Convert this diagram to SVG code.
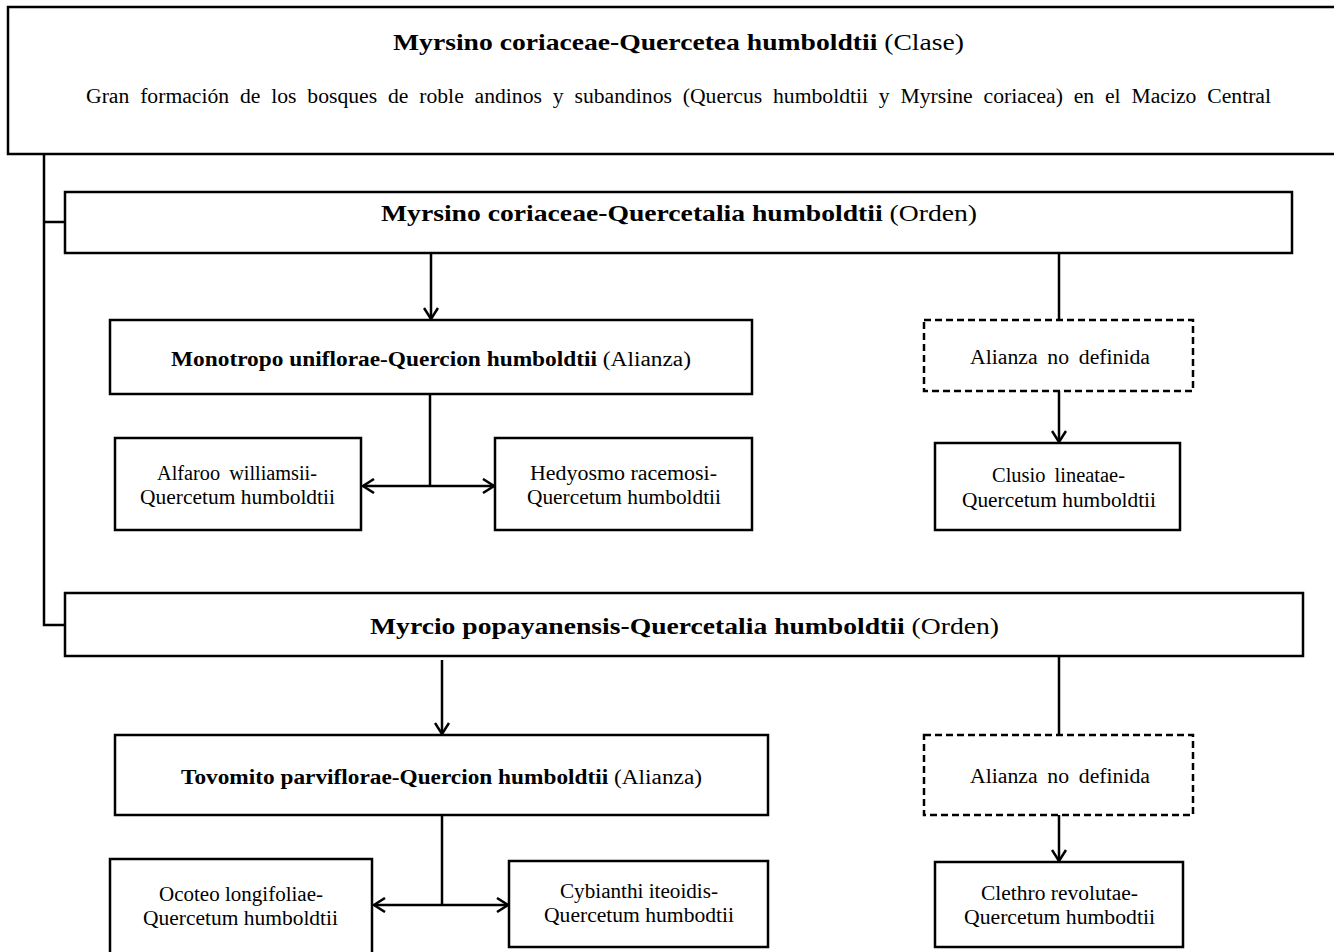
<svg xmlns="http://www.w3.org/2000/svg" width="1334" height="952" viewBox="0 0 1334 952">
  <style>
    .box { fill: #fff; stroke: #000; stroke-width: 2.5; }
    .dash { fill: #fff; stroke: #000; stroke-width: 2.5; stroke-dasharray: 7 4; }
    .wire { fill: none; stroke: #000; stroke-width: 2.5; }
    text { font-family: "Liberation Serif", "Times New Roman", serif; fill: #000; }
    .b { font-weight: bold; }
    .big { font-size: 23px; }
    .mid { font-size: 20px; }
    .sm { font-size: 20px; }
  </style>
  <defs>
    <marker id="chev" viewBox="0 0 14 16" refX="12" refY="8" markerWidth="14" markerHeight="16" markerUnits="userSpaceOnUse" orient="auto-start-reverse">
      <path d="M1,1 L12,8 L1,15" fill="none" stroke="#000" stroke-width="2.5"/>
    </marker>
  </defs>

  <rect width="1334" height="952" fill="#fff"/>

  <!-- class -->
  <g id="clase">
    <rect class="box" x="8" y="7" width="1340" height="147"/>
    <text class="big" x="393" y="50" textLength="571" lengthAdjust="spacingAndGlyphs"><tspan class="b">Myrsino coriaceae-Quercetea humboldtii</tspan> (Clase)</text>
    <text class="mid" x="86" y="103" word-spacing="5" textLength="1185" lengthAdjust="spacingAndGlyphs">Gran formación de los bosques de roble andinos y subandinos (Quercus humboldtii y Myrsine coriacea) en el Macizo Central</text>
  </g>

  <!-- connectors -->
  <g id="connectors">
    <path class="wire" d="M44,154 V625 H65 M44,222 H65"/>
    <path class="wire" d="M431,253 V319" marker-end="url(#chev)"/>
    <path class="wire" d="M1059,253 V320"/>
    <path class="wire" d="M430,394 V486"/>
    <path class="wire" d="M363,486 H494" marker-start="url(#chev)" marker-end="url(#chev)"/>
    <path class="wire" d="M1059,391 V442" marker-end="url(#chev)"/>
    <path class="wire" d="M442,660 V734" marker-end="url(#chev)"/>
    <path class="wire" d="M1059,656 V735"/>
    <path class="wire" d="M442,815 V905"/>
    <path class="wire" d="M374,905 H508" marker-start="url(#chev)" marker-end="url(#chev)"/>
    <path class="wire" d="M1059,815 V861" marker-end="url(#chev)"/>
  </g>

  <!-- order 1 -->
  <g id="orden1">
    <rect class="box" x="65" y="192" width="1227" height="61"/>
    <text class="big" x="381" y="221" textLength="596" lengthAdjust="spacingAndGlyphs"><tspan class="b">Myrsino coriaceae-Quercetalia humboldtii</tspan> (Orden)</text>
  </g>

  <g id="alianza1">
    <rect class="box" x="110" y="320" width="642" height="74"/>
    <text class="mid" x="171" y="366" textLength="520" lengthAdjust="spacingAndGlyphs"><tspan class="b">Monotropo uniflorae-Quercion humboldtii</tspan>  (Alianza)</text>
  </g>

  <g id="alianza-nd1">
    <rect class="dash" x="924" y="320" width="269" height="71"/>
    <text class="mid" x="970" y="364" word-spacing="4" textLength="180" lengthAdjust="spacingAndGlyphs">Alianza no definida</text>
  </g>

  <g id="alfaroo">
    <rect class="box" x="115" y="438" width="246" height="92"/>
    <text class="sm" x="157" y="480" word-spacing="4" textLength="160" lengthAdjust="spacingAndGlyphs">Alfaroo williamsii-</text>
    <text class="sm" x="140" y="504" textLength="195" lengthAdjust="spacingAndGlyphs">Quercetum humboldtii</text>
  </g>

  <g id="hedyosmo">
    <rect class="box" x="495" y="438" width="257" height="92"/>
    <text class="sm" x="530" y="480" textLength="187" lengthAdjust="spacingAndGlyphs">Hedyosmo racemosi-</text>
    <text class="sm" x="527" y="504" textLength="194" lengthAdjust="spacingAndGlyphs">Quercetum humboldtii</text>
  </g>

  <g id="clusio">
    <rect class="box" x="935" y="443" width="245" height="87"/>
    <text class="sm" x="992" y="482" word-spacing="4" textLength="133" lengthAdjust="spacingAndGlyphs">Clusio lineatae-</text>
    <text class="sm" x="962" y="507" textLength="194" lengthAdjust="spacingAndGlyphs">Quercetum humboldtii</text>
  </g>

  <!-- order 2 -->
  <g id="orden2">
    <rect class="box" x="65" y="593" width="1238" height="63"/>
    <text style="font-size:24px" x="370" y="634" textLength="629" lengthAdjust="spacingAndGlyphs"><tspan class="b">Myrcio popayanensis-Quercetalia humboldtii</tspan> (Orden)</text>
  </g>

  <g id="alianza2">
    <rect class="box" x="115" y="735" width="653" height="80"/>
    <text class="mid" x="181" y="784" textLength="521" lengthAdjust="spacingAndGlyphs"><tspan class="b">Tovomito parviflorae-Quercion  humboldtii</tspan>  (Alianza)</text>
  </g>

  <g id="alianza-nd2">
    <rect class="dash" x="924" y="735" width="269" height="80"/>
    <text class="mid" x="970" y="783" word-spacing="4" textLength="180" lengthAdjust="spacingAndGlyphs">Alianza no definida</text>
  </g>

  <g id="ocoteo">
    <rect class="box" x="110" y="859" width="262" height="96"/>
    <text class="sm" x="159" y="901" textLength="164" lengthAdjust="spacingAndGlyphs">Ocoteo longifoliae-</text>
    <text class="sm" x="143" y="925" textLength="195" lengthAdjust="spacingAndGlyphs">Quercetum humboldtii</text>
  </g>

  <g id="cybianthi">
    <rect class="box" x="509" y="861" width="259" height="86"/>
    <text class="sm" x="560" y="898" textLength="158" lengthAdjust="spacingAndGlyphs">Cybianthi iteoidis-</text>
    <text class="sm" x="544" y="922" textLength="190" lengthAdjust="spacingAndGlyphs">Quercetum humbodtii</text>
  </g>

  <g id="clethro">
    <rect class="box" x="935" y="862" width="248" height="85"/>
    <text class="sm" x="981" y="900" textLength="157" lengthAdjust="spacingAndGlyphs">Clethro revolutae-</text>
    <text class="sm" x="964" y="924" textLength="191" lengthAdjust="spacingAndGlyphs">Quercetum humbodtii</text>
  </g>
</svg>
